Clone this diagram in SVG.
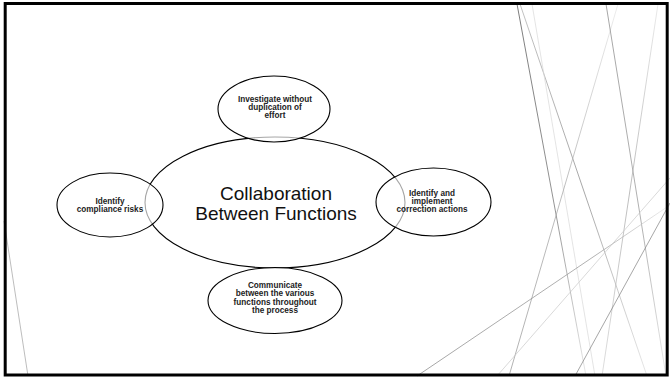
<svg xmlns="http://www.w3.org/2000/svg" width="670" height="378" viewBox="0 0 670 378">
  <style>
    .deco { fill: none; stroke-width: 0.7; }
    .hub { fill: none; stroke: #000; stroke-width: 1.1; }
    .sat { fill: #fff; fill-opacity: 0.65; stroke: #000; stroke-width: 1.1; }
    .big { font-family: "Liberation Sans", Arial, sans-serif; font-size: 19px; fill: #111; text-anchor: middle; }
    .small { font-family: "Liberation Sans", Arial, sans-serif; font-size: 8.2px; font-weight: bold; fill: #222; text-anchor: middle; }
  </style>
  <defs>
    <linearGradient id="g1" gradientUnits="userSpaceOnUse" x1="517" y1="4" x2="586" y2="376"><stop offset="0" stop-color="#444"/><stop offset="0.55" stop-color="#666"/><stop offset="1" stop-color="#ddd"/></linearGradient>
    <linearGradient id="g2" gradientUnits="userSpaceOnUse" x1="520" y1="4" x2="647" y2="376"><stop offset="0" stop-color="#aaa"/><stop offset="0.5" stop-color="#808080"/><stop offset="1" stop-color="#ddd"/></linearGradient>
    <linearGradient id="g4" gradientUnits="userSpaceOnUse" x1="618" y1="4" x2="509" y2="376"><stop offset="0" stop-color="#e6e6e6"/><stop offset="0.5" stop-color="#a0a0a0"/><stop offset="1" stop-color="#909090"/></linearGradient>
    <linearGradient id="g5" gradientUnits="userSpaceOnUse" x1="606" y1="4" x2="666" y2="376"><stop offset="0" stop-color="#808080"/><stop offset="0.6" stop-color="#909090"/><stop offset="1" stop-color="#e0e0e0"/></linearGradient>
    <linearGradient id="g6" gradientUnits="userSpaceOnUse" x1="658" y1="4" x2="602" y2="376"><stop offset="0" stop-color="#e0e0e0"/><stop offset="0.5" stop-color="#a0a0a0"/><stop offset="1" stop-color="#d0d0d0"/></linearGradient>
    <linearGradient id="g8" gradientUnits="userSpaceOnUse" x1="417" y1="376" x2="670" y2="205"><stop offset="0" stop-color="#808080"/><stop offset="0.7" stop-color="#909090"/><stop offset="1" stop-color="#e8e8e8"/></linearGradient>
  </defs>
  <rect x="0" y="0" width="670" height="378" fill="#fff"/>
  <g id="decor">
    <line class="deco" x1="517" y1="4" x2="586" y2="376" stroke="url(#g1)"/>
    <line class="deco" x1="520" y1="4" x2="647" y2="376" stroke="url(#g2)"/>
    <line class="deco" x1="532" y1="4" x2="595" y2="376" stroke="#d8d8d8"/>
    <line class="deco" x1="618" y1="4" x2="509" y2="376" stroke="url(#g4)"/>
    <line class="deco" x1="606" y1="4" x2="666" y2="376" stroke="url(#g5)"/>
    <line class="deco" x1="658" y1="4" x2="602" y2="376" stroke="url(#g6)"/>
    <line class="deco" x1="670" y1="203" x2="575" y2="376" stroke="#808080"/>
    <line class="deco" x1="417" y1="376" x2="670" y2="205" stroke="url(#g8)"/>
    <line class="deco" x1="497" y1="376" x2="670" y2="178" stroke="#c8c8c8"/>
    <line class="deco" x1="4" y1="221" x2="28" y2="376" stroke="#a0a0a0"/>
  </g>
  <g id="hub">
    <ellipse class="hub" cx="275" cy="202.5" rx="130" ry="65.5"/>
    <text class="big" x="276" y="200">Collaboration</text>
    <text class="big" x="276" y="220">Between Functions</text>
  </g>
  <g id="node-top">
    <ellipse class="sat" cx="274" cy="109" rx="56" ry="33"/>
    <text class="small" x="275" y="102">Investigate without</text>
    <text class="small" x="275" y="110">duplication of</text>
    <text class="small" x="275" y="118">effort</text>
  </g>
  <g id="node-left">
    <ellipse class="sat" cx="110" cy="205" rx="53" ry="32"/>
    <text class="small" x="110" y="203.5">Identify</text>
    <text class="small" x="110" y="211.5">compliance risks</text>
  </g>
  <g id="node-right">
    <ellipse class="sat" cx="433.5" cy="202" rx="57.5" ry="34"/>
    <text class="small" x="432" y="196">Identify and</text>
    <text class="small" x="432" y="204">implement</text>
    <text class="small" x="432" y="212">correction actions</text>
  </g>
  <g id="node-bottom">
    <ellipse class="sat" cx="275" cy="300.5" rx="67" ry="33"/>
    <text class="small" x="275" y="288">Communicate</text>
    <text class="small" x="275" y="296.3">between the various</text>
    <text class="small" x="275" y="304.6">functions throughout</text>
    <text class="small" x="275" y="313">the process</text>
  </g>
  <g id="connectors"/>
  <rect x="5.2" y="3.5" width="662" height="371.5" fill="none" stroke="#000" stroke-width="3"/>
</svg>
